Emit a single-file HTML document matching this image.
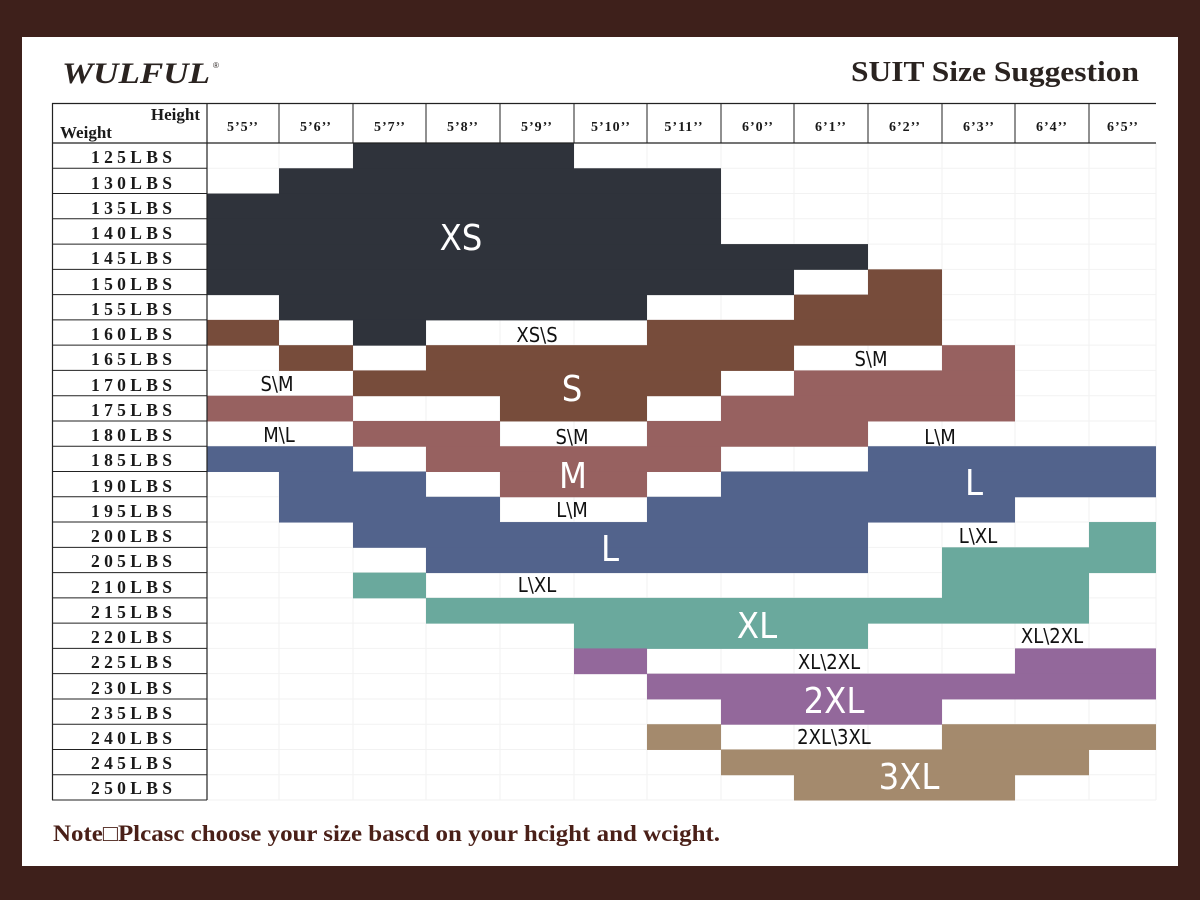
<!DOCTYPE html>
<html><head><meta charset="utf-8"><style>
html,body{margin:0;padding:0;background:#3e201b;}
svg{display:block}
</style></head><body>
<svg id="s" width="1200" height="900" xmlns="http://www.w3.org/2000/svg">
<rect x="0" y="0" width="1200" height="900" fill="#3e201b"/>
<rect x="22" y="37" width="1156" height="829" fill="#ffffff"/>
<g id="grid"></g>
<g id="blocks"></g>
<g id="lines"></g>
<text x="62" y="83" textLength="148" lengthAdjust="spacingAndGlyphs" font-family="Liberation Serif, serif" font-weight="bold" font-style="italic" font-size="30" fill="#2a2320">WULFUL</text>
<text x="213" y="68" font-family="Liberation Sans, sans-serif" font-size="8" fill="#2a2320">®</text>
<text x="851" y="81" textLength="288" lengthAdjust="spacingAndGlyphs" font-family="Liberation Serif, serif" font-weight="bold" font-size="28" fill="#2a2320">SUIT Size Suggestion</text>
<g font-family="Liberation Serif, serif" font-weight="bold" fill="#1a1a1a">
<text x="200" y="120" text-anchor="end" font-size="17">Height</text>
<text x="60" y="138" font-size="17">Weight</text>
<g font-size="14" text-anchor="middle" letter-spacing="1">
<text x="243" y="131">5’5’’</text><text x="316" y="131">5’6’’</text><text x="390" y="131">5’7’’</text>
<text x="463" y="131">5’8’’</text><text x="537" y="131">5’9’’</text><text x="611" y="131">5’10’’</text>
<text x="684" y="131">5’11’’</text><text x="758" y="131">6’0’’</text><text x="831" y="131">6’1’’</text>
<text x="905" y="131">6’2’’</text><text x="979" y="131">6’3’’</text><text x="1052" y="131">6’4’’</text>
<text x="1123" y="131">6’5’’</text>
</g>
<g font-size="17.5" id="wt">
<text x="91" y="163" textLength="81">125LBS</text>
<text x="91" y="189" textLength="81">130LBS</text>
<text x="91" y="214" textLength="81">135LBS</text>
<text x="91" y="239" textLength="81">140LBS</text>
<text x="91" y="264" textLength="81">145LBS</text>
<text x="91" y="290" textLength="81">150LBS</text>
<text x="91" y="315" textLength="81">155LBS</text>
<text x="91" y="340" textLength="81">160LBS</text>
<text x="91" y="365" textLength="81">165LBS</text>
<text x="91" y="391" textLength="81">170LBS</text>
<text x="91" y="416" textLength="81">175LBS</text>
<text x="91" y="441" textLength="81">180LBS</text>
<text x="91" y="466" textLength="81">185LBS</text>
<text x="91" y="492" textLength="81">190LBS</text>
<text x="91" y="517" textLength="81">195LBS</text>
<text x="91" y="542" textLength="81">200LBS</text>
<text x="91" y="567" textLength="81">205LBS</text>
<text x="91" y="593" textLength="81">210LBS</text>
<text x="91" y="618" textLength="81">215LBS</text>
<text x="91" y="643" textLength="81">220LBS</text>
<text x="91" y="668" textLength="81">225LBS</text>
<text x="91" y="694" textLength="81">230LBS</text>
<text x="91" y="719" textLength="81">235LBS</text>
<text x="91" y="744" textLength="81">240LBS</text>
<text x="91" y="769" textLength="81">245LBS</text>
<text x="91" y="794" textLength="81">250LBS</text>
</g>
</g>
<g font-family="DejaVu Sans Condensed, DejaVu Sans, sans-serif" text-anchor="middle">
<g fill="#ffffff" font-size="36">
<text x="461" y="250">XS</text><text x="572" y="401">S</text><text x="573" y="488">M</text>
<text x="974" y="495">L</text><text x="610" y="561">L</text><text x="757" y="638">XL</text>
<text x="834" y="713">2XL</text><text x="909" y="789">3XL</text>
</g>
<g fill="#111" font-size="20">
<text x="537" y="342">XS\S</text><text x="871" y="366">S\M</text><text x="277" y="391">S\M</text>
<text x="279" y="442">M\L</text><text x="572" y="444">S\M</text><text x="940" y="444">L\M</text>
<text x="572" y="517">L\M</text><text x="978" y="543">L\XL</text><text x="537" y="592">L\XL</text>
<text x="1052" y="643">XL\2XL</text><text x="829" y="669">XL\2XL</text><text x="834" y="744">2XL\3XL</text>
</g>
</g>
<text x="53" y="841" textLength="667" lengthAdjust="spacingAndGlyphs" font-family="Liberation Serif, serif" font-weight="bold" font-size="23" fill="#4a2018">Note□Plcasc choose your size bascd on your hcight and wcight.</text>
</svg>
<script>
var X=[207,279,353,426,500,574,647,721,794,868,942,1015,1089,1156];
function Y(i){return 143+i*25.27;}
var ns="http://www.w3.org/2000/svg";
function r(g,x,y,w,h,f){var e=document.createElementNS(ns,"rect");e.setAttribute("x",x);e.setAttribute("y",y);e.setAttribute("width",w);e.setAttribute("height",h);e.setAttribute("fill",f);document.getElementById(g).appendChild(e);}
function l(x1,y1,x2,y2,c,w){var e=document.createElementNS(ns,"line");e.setAttribute("x1",x1);e.setAttribute("y1",y1);e.setAttribute("x2",x2);e.setAttribute("y2",y2);e.setAttribute("stroke",c);e.setAttribute("stroke-width",w);document.getElementById("lines").appendChild(e);}
for(var i=0;i<X.length;i++){var e=document.createElementNS(ns,"line");e.setAttribute("x1",X[i]);e.setAttribute("x2",X[i]);e.setAttribute("y1",143);e.setAttribute("y2",800);e.setAttribute("stroke","#f2f2f2");document.getElementById("grid").appendChild(e);}
for(var j=0;j<=26;j++){var e=document.createElementNS(ns,"line");e.setAttribute("x1",207);e.setAttribute("x2",1156);e.setAttribute("y1",Y(j));e.setAttribute("y2",Y(j));e.setAttribute("stroke","#f2f2f2");document.getElementById("grid").appendChild(e);}
var C={d:"#2f333b",b:"#774c3b",p:"#976160",u:"#52638c",t:"#6aa99d",v:"#93689b",n:"#a48a6d"};
var B=[[0,2,4,"d"],[1,1,6,"d"],[2,0,6,"d"],[3,0,6,"d"],[4,0,8,"d"],[5,0,7,"d"],[5,9,9,"b"],
[6,1,5,"d"],[6,8,9,"b"],[7,0,0,"b"],[7,2,2,"d"],[7,6,9,"b"],[8,1,1,"b"],[8,3,7,"b"],[8,10,10,"p"],
[9,2,6,"b"],[9,8,10,"p"],[10,0,1,"p"],[10,4,5,"b"],[10,7,10,"p"],[11,2,3,"p"],[11,6,8,"p"],
[12,0,1,"u"],[12,3,6,"p"],[12,9,12,"u"],[13,1,2,"u"],[13,4,5,"p"],[13,7,12,"u"],[14,1,3,"u"],[14,6,10,"u"],
[15,2,8,"u"],[15,12,12,"t"],[16,3,8,"u"],[16,10,12,"t"],[17,2,2,"t"],[17,10,11,"t"],[18,3,11,"t"],[19,5,8,"t"],
[20,5,5,"v"],[20,11,12,"v"],[21,6,12,"v"],[22,7,9,"v"],[23,6,6,"n"],[23,10,12,"n"],[24,7,11,"n"],[25,8,10,"n"]];
B.forEach(function(b){var y=Y(b[0]);r("blocks",X[b[1]],y,X[b[2]+1]-X[b[1]],Y(b[0]+1)-y+0.5,C[b[3]]);});
l(52,103.5,1156,103.5,"#222",1.2);l(52,143,1156,143,"#222",1.2);
l(52.5,103,52.5,800,"#222",1.2);l(207,103,207,800,"#222",1.2);
for(var i=1;i<13;i++)l(X[i],103,X[i],143,"#222",1);
for(var j=1;j<=26;j++)l(52,Y(j),207,Y(j),"#222",1);
</script>
</body></html>
